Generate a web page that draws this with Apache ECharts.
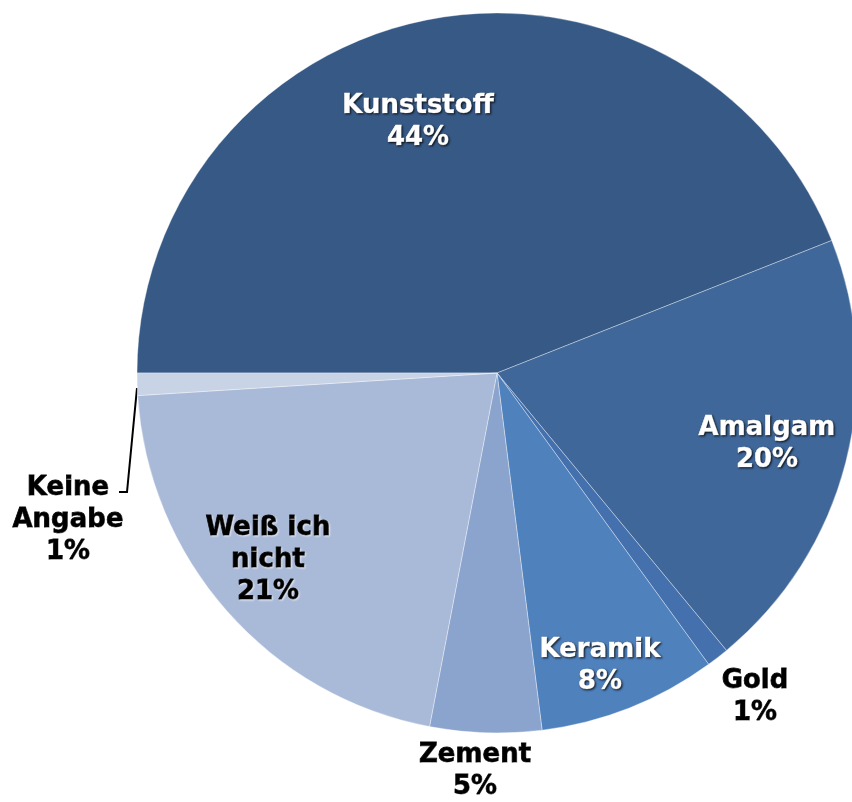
<!DOCTYPE html>
<html>
<head>
<meta charset="utf-8">
<script src="https://cdn.jsdelivr.net/npm/echarts@6/dist/echarts.min.js"></script>
<style>
  html, body { margin: 0; padding: 0; background: #fff; }
  #chart { width: 852px; height: 802px; }
</style>
</head>
<body>
<div id="chart"></div>
<script>
// categories and shares (%)
var categories = ['Kunststoff', 'Amalgam', 'Gold', 'Keramik', 'Zement', 'Weiß ich\nnicht', 'Keine\nAngabe'];
var values = [44, 20, 1, 8, 5, 21, 1];
var colors = ['#365986', '#3f6799', '#4470ad', '#4f81bd', '#8aa4ce', '#a9b9d8', '#c8d3e6'];

// label centres (px) and text style kind per slice
var labelPos = [[418, 122], [767, 444], [755, 697], [600, 666], [475, 771], [268, 560], [68, 520]];
var labelKind = ['light', 'light', 'dark', 'light', 'dark', 'dark', 'dark'];

var chart = echarts.init(document.getElementById('chart'));

var lightText = {
    color: '#ffffff',
    textBorderColor: '#ffffff',
    textBorderWidth: 0.6,
    textShadowColor: 'rgba(0,0,0,0.75)',
    textShadowBlur: 2,
    textShadowOffsetX: 1,
    textShadowOffsetY: 1
};
var darkText = {
    color: '#000000',
    textBorderColor: '#000000',
    textBorderWidth: 0.8,
    textShadowColor: 'rgba(255,255,255,0.6)',
    textShadowBlur: 2,
    textShadowOffsetX: 1,
    textShadowOffsetY: 1
};

var data = categories.map(function (name, i) {
    var item = {
        name: name,
        value: values[i],
        itemStyle: { color: colors[i] },
        label: Object.assign({}, labelKind[i] === 'light' ? lightText : darkText)
    };
    // only "Keine Angabe" has a leader line
    item.labelLine = { show: i === 6 };
    return item;
});

chart.setOption({
    backgroundColor: '#ffffff',
    animation: false,
    series: [{
        type: 'pie',
        center: [497, 373],
        radius: 360,
        startAngle: 180,
        clockwise: true,
        avoidLabelOverlap: false,
        itemStyle: {
            borderColor: 'rgba(255,255,255,0.35)',
            borderWidth: 1
        },
        label: {
            show: true,
            position: 'outside',
            formatter: function (p) {
                return p.name + '\n' + p.value + '%';
            },
            fontFamily: 'DejaVu Sans',
            fontWeight: 'bold',
            fontSize: 26,
            lineHeight: 32,
            align: 'center'
        },
        labelLine: {
            lineStyle: { color: '#000', width: 2 }
        },
        labelLayout: function (params) {
            var p = labelPos[params.dataIndex];
            var res = {
                x: p[0],
                y: p[1],
                align: 'center',
                verticalAlign: 'middle'
            };
            if (params.dataIndex === 6) {
                res.labelLinePoints = [[137, 388], [127, 492], [119, 492]];
            }
            return res;
        },
        data: data
    }]
});
</script>
</body>
</html>
